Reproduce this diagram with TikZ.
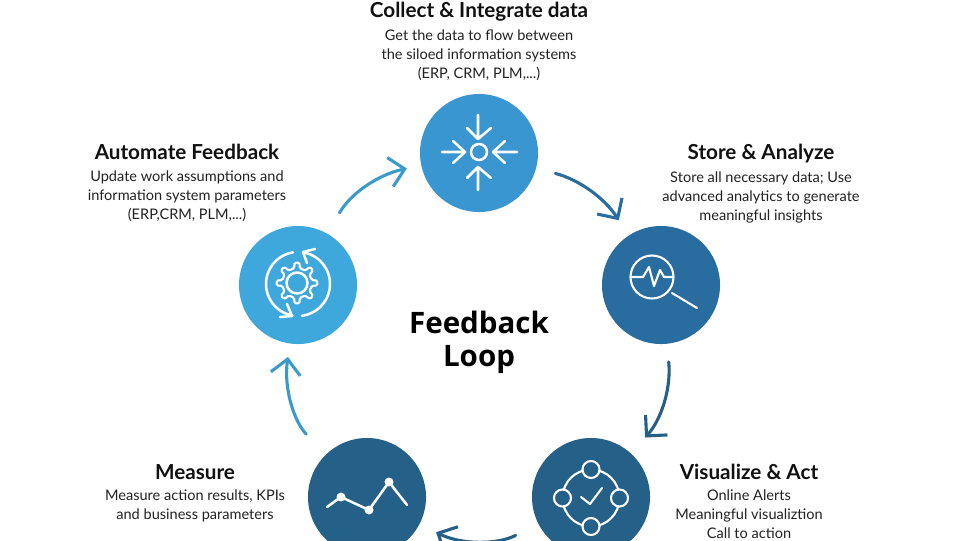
\documentclass[tikz,border=0pt]{standalone}
\usepackage{fontspec}
\usepackage{xcolor}
\usetikzlibrary{arrows.meta}
\setmainfont{Lato}
\newfontfamily\loopfont{Open Sans}
\definecolor{topblue}{HTML}{3A96D0}
\definecolor{leftblue}{HTML}{3EA8DC}
\definecolor{rightblue}{HTML}{286CA0}
\definecolor{lowblue}{HTML}{246088}
\definecolor{returnblue}{HTML}{3A9BCB}
\definecolor{titleink}{HTML}{111111}
\definecolor{bodyink}{HTML}{222222}
\tikzset{
	stepcircle/.style={circle, minimum size=2.95cm, inner sep=0pt},
	headtext/.style={font=\fontsize{14.7}{17}\selectfont\bfseries, text=titleink},
	bodytext/.style={font=\fontsize{10.35}{13.5}\selectfont, text=bodyink, align=center},
	looptext/.style={font=\fontsize{21}{24}\selectfont\loopfont\bfseries, text=black},
	iconline/.style={draw=white, line width=1.8pt, line cap=round, line join=round},
	flowarrow/.style={-{Straight Barb[length=3.7mm, width=7.4mm]}, line width=2.2pt, line cap=round}
}
\begin{document}
\begin{tikzpicture}[x=0.025cm, y=-0.025cm]
	\clip (0,0) rectangle (960,540);
	\fill[white] (0,0) rectangle (960,540);

	% Steps
	\node[stepcircle, fill=topblue] (collect) at (479,153) {};
	\node[stepcircle, fill=rightblue] (store) at (661,285) {};
	\node[stepcircle, fill=lowblue] (visualize) at (591,497) {};
	\node[stepcircle, fill=lowblue] (measure) at (367,497) {};
	\node[stepcircle, fill=leftblue] (automate) at (298,285) {};

	% Arrows round the loop
	\draw[flowarrow, draw=rightblue, shorten <=14pt, shorten >=12.8pt] (collect) to[bend left=21] (store);
	\draw[flowarrow, draw=lowblue, shorten <=12.8pt, shorten >=15pt] (store) to[bend left=24] (visualize);
	\draw[flowarrow, draw=lowblue, shorten <=18pt, shorten >=13pt] (visualize) to[bend left=27] (measure);
	\draw[flowarrow, draw=returnblue, shorten <=20pt, shorten >=9.5pt] (measure) to[bend left=26] (automate);
	\draw[flowarrow, draw=returnblue, shorten <=17pt, shorten >=10.3pt] (automate) to[bend left=24] (collect);

	% Centre
	\node[looptext] (feedback) at (479,322) {Feedback};
	\node[looptext] (looplabel) at (479,360) {Loop};

	% Collect text
	\node[headtext] (collecthead) at (479,11.5) {Collect \& Integrate data};
	\node[bodytext] (collectbody) at (479,55) {Get the data to flow between\\the siloed information systems\\(ERP, CRM, PLM,...)};

	% Store text
	\node[headtext] (storehead) at (761,154) {Store \& Analyze};
	\node[bodytext] (storebody) at (761,197.5) {Store all necessary data; Use\\advanced analytics to generate\\meaningful insights};

	% Visualize text
	\node[headtext] (visualizehead) at (749,472) {Visualize \& Act};
	\node[bodytext] (visualizebody) at (749,514.5) {Online Alerts\\Meaningful visualiztion\\Call to action};

	% Measure text
	\node[headtext] (measurehead) at (195,472) {Measure};
	\node[bodytext] (measurebody) at (195,505.5) {Measure action results, KPIs\\and business parameters};

	% Automate text
	\node[headtext] (automatehead) at (187,152) {Automate Feedback};
	\node[bodytext] (automatebody) at (187,196) {Update work assumptions and\\information system parameters\\(ERP,CRM, PLM,...)};

	% Collect icon
	\draw[iconline] (479,152) circle (8);
	\draw[iconline] (478,115) -- (478,139) (467,128) -- (478,139) -- (491,128);
	\draw[iconline] (478,190) -- (478,167) (467,178) -- (478,167) -- (491,178);
	\draw[iconline] (442,152) -- (465,152) (453,141) -- (465,152) -- (453,163);
	\draw[iconline] (517,152) -- (493,152) (505,141) -- (493,152) -- (505,163);

	% Automate icon
	\draw[iconline] (297,283) circle (10.5);
	\draw[iconline, line width=1.5pt, rounded corners=1pt, shift={(297,283)}] (-11:15)
		\foreach \a in {0,45,...,315} {-- (\a-11:15) -- (\a-7:20.5) -- (\a+7:20.5) -- (\a+11:15)} -- cycle;
	\draw[iconline] ([shift={(298,284)}]261:32) arc (261:100:32);
	\draw[iconline] ([shift={(298,284)}]-81:32) arc (-81:83:32);
	\draw[iconline] (315,249) -- (303,252) -- (307,263);
	\draw[iconline] (280,317) -- (292,316) -- (287,304);

	% Store icon
	\draw[iconline, line width=1.5pt] (652,277) circle (21.5);
	\draw[iconline, line width=1.5pt] (672,293) -- (697,308);
	\draw[iconline, line width=1.5pt] (632,277) -- (643,277) -- (649,267) -- (654,286) -- (660,270) -- (664,277) -- (673,277);

	% Visualize icon
	\draw[iconline, line width=1.5pt] (591,498) circle (28.5);
	\foreach \a in {0,90,180,270} {
		\draw[iconline, line width=1.5pt, fill=lowblue] ([shift={(591,498)}]\a:28.5) circle (8.5);
	}
	\draw[iconline, line width=1.5pt] (581,497) -- (590,504) -- (602,488);

	% Measure icon
	\draw[iconline] (327,507) -- (341,497) -- (369,510) -- (389,482) -- (407,505);
	\foreach \px/\py in {341/497, 369/510, 389/482} {
		\fill[white] (\px,\py) circle (4.5);
	}
\end{tikzpicture}
\end{document}
